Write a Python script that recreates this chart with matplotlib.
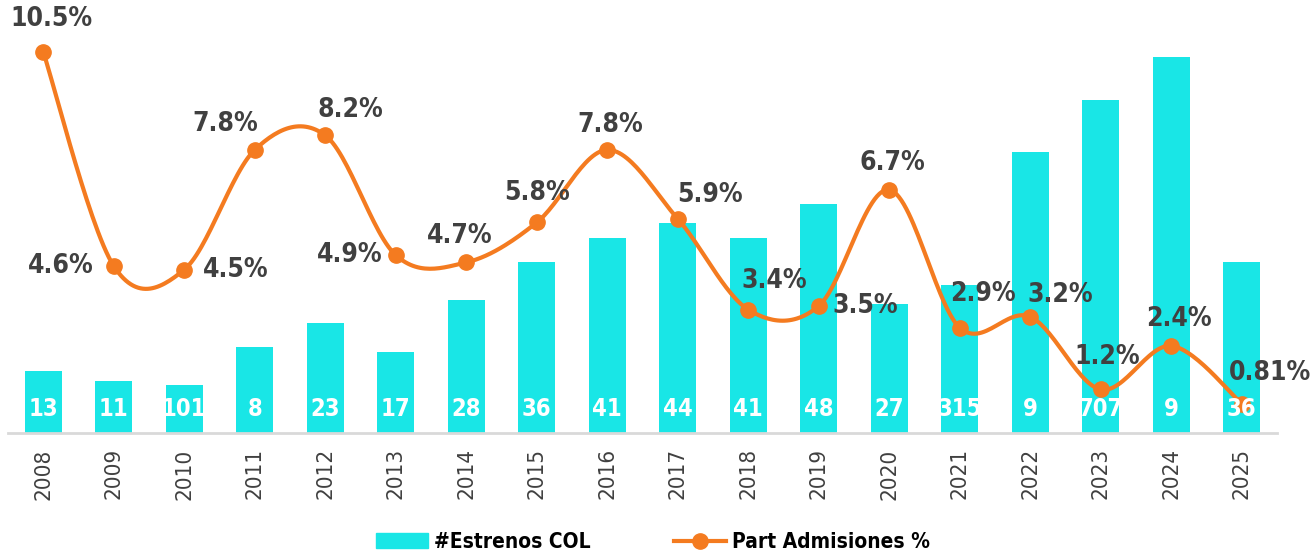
import matplotlib
matplotlib.use("Agg")
import matplotlib.pyplot as plt
import numpy as np
from matplotlib.patches import Patch
from matplotlib.lines import Line2D

# data
years = ["2008", "2009", "2010", "2011", "2012", "2013", "2014", "2015", "2016",
         "2017", "2018", "2019", "2020", "2021", "2022", "2023", "2024", "2025"]
estrenos = [13, 11, 10, 18, 23, 17, 28, 36, 41, 44, 41, 48, 27, 31, 59, 70, 79, 36]
# labels as they appear (cut by the bar edge) in the original
estrenos_lbl = ["13", "11", "101", "8", "23", "17", "28", "36", "41",
                "44", "41", "48", "27", "315", "9", "707", "9", "36"]
part_adm = [10.5, 4.6, 4.5, 7.8, 8.2, 4.9, 4.7, 5.8, 7.8,
            5.9, 3.4, 3.5, 6.7, 2.9, 3.2, 1.2, 2.4, 0.81]
part_lbl = ["10.5%", "4.6%", "4.5%", "7.8%", "8.2%", "4.9%", "4.7%", "5.8%", "7.8%",
            "5.9%", "3.4%", "3.5%", "6.7%", "2.9%", "3.2%", "1.2%", "2.4%", "0.81%"]

# label offsets (pixels from the point)
lbl_off = [(8, -33), (-53, 0), (51, 0), (-30, -26), (25, -25), (-46, 0), (-7, -26),
           (0, -29), (3, -25), (32, -24), (26, -29), (47, 0), (3, -27), (23, -34),
           (30, -22), (6, -32), (8, -27), (28, -31)]

CYAN = "#19E6E6"
ORANGE = "#F47B20"
GREY = "#404040"

plt.rcParams["font.family"] = ["DejaVu Sans"]
plt.rcParams["font.stretch"] = "condensed"


def smooth(x, y, n=30):
    # Catmull-Rom style smoothing like a spreadsheet "smoothed line"
    x = np.asarray(x, float)
    y = np.asarray(y, float)
    px = np.concatenate([[x[0]], x, [x[-1]]])
    py = np.concatenate([[y[0]], y, [y[-1]]])
    xs, ys = [], []
    t = np.linspace(0, 1, n)
    for i in range(1, len(px) - 2):
        p0x, p1x, p2x, p3x = px[i - 1:i + 3]
        p0y, p1y, p2y, p3y = py[i - 1:i + 3]
        c1x = p1x + (p2x - p0x) / 6
        c1y = p1y + (p2y - p0y) / 6
        c2x = p2x - (p3x - p1x) / 6
        c2y = p2y - (p3y - p1y) / 6
        bx = (1 - t) ** 3 * p1x + 3 * (1 - t) ** 2 * t * c1x + 3 * (1 - t) * t ** 2 * c2x + t ** 3 * p2x
        by = (1 - t) ** 3 * p1y + 3 * (1 - t) ** 2 * t * c1y + 3 * (1 - t) * t ** 2 * c2y + t ** 3 * p2y
        xs.append(bx)
        ys.append(by)
    return np.concatenate(xs), np.concatenate(ys)


fig = plt.figure(figsize=(13.13, 5.57), dpi=100)
ax = fig.add_axes([8 / 1313, 1 - 433 / 557, 1269 / 1313, 400 / 557])
x = np.arange(len(years))

bars = ax.bar(x, estrenos, width=0.53, color=CYAN, zorder=1)
ax.set_ylim(0, 84)
ax.set_xlim(-0.5, len(years) - 0.5)

for s in ["top", "right", "left"]:
    ax.spines[s].set_visible(False)
ax.spines["bottom"].set_color("#D9D9D9")
ax.spines["bottom"].set_linewidth(2)
ax.set_yticks([])
ax.set_xticks(x)
ax.set_xticklabels(years, rotation=90, fontsize=16, color=GREY)
ax.tick_params(axis="x", length=0, pad=11)

ax2 = ax.twinx()
ax2.set_ylim(0, 11.02)
ax2.axis("off")
sx, sy = smooth(x, part_adm)
ax2.plot(sx, sy, color=ORANGE, lw=3, zorder=3, solid_capstyle="round")
ax2.plot(x, part_adm, "o", color=ORANGE, ms=11, zorder=4)

# bar labels drawn on top of the line, clipped to their bar
for b, lbl in zip(bars, estrenos_lbl):
    t = ax2.text(b.get_x() + b.get_width() / 2, 5.0, lbl, transform=ax.transData,
                 ha="center", va="center", color="white", fontsize=17,
                 fontweight="bold", zorder=6)
    t.set_clip_path(b)

for xi, yi, lbl, (dx, dy) in zip(x, part_adm, part_lbl, lbl_off):
    ax2.annotate(lbl, (xi, yi), xytext=(dx * 0.72, -dy * 0.72), textcoords="offset points",
                 ha="center", va="center", color=GREY, fontsize=19, fontweight="bold",
                 zorder=5, annotation_clip=False)

handles = [Patch(color=CYAN, label="#Estrenos COL"),
           Line2D([0], [0], color=ORANGE, lw=3, marker="o", ms=11, label="Part Admisiones %")]
leg = fig.legend(handles=handles, loc="center", bbox_to_anchor=(653 / 1313, 1 - 542 / 557),
                 ncol=2, frameon=False, columnspacing=4.0, handlelength=2.5,
                 handletextpad=0.3,
                 prop={"family": "DejaVu Sans", "stretch": "condensed",
                       "weight": "bold", "size": 15})
for txt in leg.get_texts():
    txt.set_color("black")

fig.savefig("out.png", dpi=100)
